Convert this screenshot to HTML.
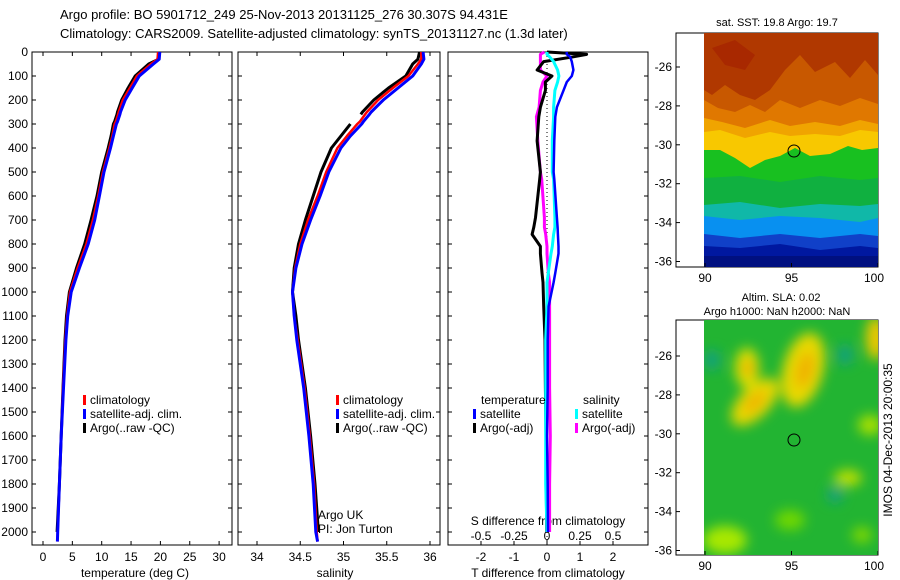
<!DOCTYPE html>
<html><head><meta charset="utf-8"><style>
body{margin:0;background:#fff}
svg{display:block;font-family:"Liberation Sans",sans-serif;font-size:12px}
</style></head><body>
<svg id="s" width="900" height="580" viewBox="0 0 900 580">
<defs><filter id="bl" x="-50%" y="-50%" width="200%" height="200%"><feGaussianBlur stdDeviation="6"/></filter>
<clipPath id="c1"><rect x="704" y="33" width="174" height="234"/></clipPath>
<clipPath id="c2"><rect x="704" y="320" width="174" height="235"/></clipPath></defs>
<text x="60" y="19" font-size="13">Argo profile: BO 5901712_249 25-Nov-2013 20131125_276 30.307S 94.431E</text>
<text x="60" y="38" font-size="13">Climatology: CARS2009. Satellite-adjusted climatology: synTS_20131127.nc (1.3d later)</text>
<g id="p1"></g>
<g id="p2"></g>
<g id="p3"></g>

<g>
<rect x="676" y="33" width="202" height="234" fill="#fff" stroke="#000"/>
<g clip-path="url(#c1)">
<rect x="704" y="33" width="174" height="234" fill="#c85800"/>
<path d="M704,33 H878 V75 L865,60 L850,78 L835,62 L815,72 L800,55 L785,70 L770,90 L755,100 L740,95 L725,85 L712,95 L704,90Z" fill="#b03800"/>
<path d="M712,48 L735,40 L755,55 L745,70 L725,65Z" fill="#a82800"/>
<path d="M704,100 L718,108 L735,112 L750,105 L765,112 L780,100 L800,108 L820,100 L840,106 L860,98 L878,104 V267 H704Z" fill="#e07800"/>
<path d="M704,118 L722,122 L745,128 L770,120 L790,126 L815,122 L840,126 L860,120 L878,124 V267 H704Z" fill="#f0a400"/>
<path d="M704,132 L720,130 L745,138 L770,132 L790,136 L815,134 L840,136 L860,130 L878,132 V267 H704Z" fill="#f8c800"/>
<path d="M704,150 L720,150 L735,158 L750,168 L765,160 L780,156 L795,148 L810,156 L830,154 L848,146 L862,150 L878,148 V267 H704Z" fill="#18c020"/>
<path d="M704,178 L740,176 L780,182 L820,176 L860,180 L878,178 V267 H704Z" fill="#10b040"/>
<path d="M704,205 L740,202 L780,208 L820,204 L860,206 L878,204 V267 H704Z" fill="#10b8a8"/>
<path d="M704,216 L740,220 L780,216 L820,218 L860,222 L878,218 V267 H704Z" fill="#0890f0"/>
<path d="M704,234 L740,238 L780,234 L820,238 L860,234 L878,236 V267 H704Z" fill="#1040c8"/>
<path d="M704,246 L740,248 L780,244 L820,250 L860,246 L878,248 V267 H704Z" fill="#0018a0"/>
<path d="M704,256 H878 V267 H704Z" fill="#001080"/>
</g>
<ellipse cx="794" cy="151" rx="6" ry="6" fill="none" stroke="#000"/>
<text x="777" y="26" text-anchor="middle" font-size="11">sat. SST: 19.8 Argo: 19.7</text>
</g>
<g>
<rect x="676" y="320" width="202" height="235" fill="#fff" stroke="#000"/>
<g clip-path="url(#c2)">
<rect x="704" y="320" width="174" height="235" fill="#22b432"/>
<g filter="url(#bl)">
<ellipse cx="747" cy="368" rx="12" ry="20" fill="#e0e000"/>
<ellipse cx="755" cy="402" rx="30" ry="15" transform="rotate(-45 755 402)" fill="#e8d800"/>
<ellipse cx="803" cy="370" rx="20" ry="38" transform="rotate(15 803 370)" fill="#e8d800"/>
<ellipse cx="876" cy="338" rx="10" ry="22" fill="#f0c800"/>
<ellipse cx="848" cy="478" rx="14" ry="8" fill="#c0e000"/>
<ellipse cx="870" cy="425" rx="12" ry="10" fill="#a8e000"/>
<ellipse cx="725" cy="540" rx="22" ry="14" fill="#a8e800"/>
<ellipse cx="790" cy="520" rx="15" ry="10" fill="#70d800"/>
<ellipse cx="862" cy="535" rx="10" ry="8" fill="#80d800"/>
<ellipse cx="748" cy="368" rx="5" ry="9" fill="#f0a800"/>
<ellipse cx="755" cy="402" rx="14" ry="6" transform="rotate(-45 755 402)" fill="#f0b000"/>
<ellipse cx="805" cy="370" rx="8" ry="18" transform="rotate(15 805 370)" fill="#f0b000"/>
<ellipse cx="712" cy="360" rx="8" ry="10" fill="#18a080"/>
<ellipse cx="845" cy="355" rx="8" ry="10" fill="#18a080"/>
<ellipse cx="835" cy="495" rx="8" ry="8" fill="#18a080"/>
</g>
</g>
<ellipse cx="794" cy="440" rx="6" ry="6" fill="none" stroke="#000"/>
<text x="781" y="301" text-anchor="middle" font-size="11">Altim. SLA: 0.02</text>
<text x="777" y="315" text-anchor="middle" font-size="11">Argo h1000: NaN h2000: NaN</text>
</g>
<g id="maxes"></g>
<text transform="translate(892,440) rotate(-90)" text-anchor="middle" font-size="12">IMOS 04-Dec-2013 20:00:35</text>
<text x="318" y="519">Argo UK</text>
<text x="318" y="533">PI: Jon Turton</text>
</svg>
<script>
// depth levels (dbar)
const depths=[0,30,50,100,150,200,250,260,290,300,350,400,500,600,700,800,900,1000,1100,1200,1400,1600,1800,2000,2040];
const tempClim=[19.6,19.5,18.4,16.0,14.8,13.6,12.9,12.8,12.4,12.2,11.8,11.3,10.2,9.4,8.5,7.4,5.9,4.6,4.1,3.8,3.4,3.1,2.8,2.5,2.45];
const tempSat=[19.9,19.8,18.8,16.4,15.2,14.0,13.2,13.1,12.7,12.5,12.0,11.5,10.4,9.6,8.8,7.7,6.2,4.8,4.2,3.9,3.5,3.1,2.8,2.5,2.45];
const tempArgo=[19.8,19.7,18.0,15.7,14.5,13.4,12.7,12.6,12.2,12.0,11.6,11.1,10.0,9.2,8.2,7.1,5.7,4.5,4.0,3.75,3.4,3.1,2.8,2.4,null];
const salClim=[35.90,35.90,35.86,35.75,35.57,35.40,35.27,35.25,35.19,35.16,35.04,34.93,34.80,34.70,34.59,34.50,34.44,34.41,34.43,34.47,34.55,34.61,34.66,34.69,34.70];
const salSat=[35.92,35.93,35.90,35.80,35.63,35.46,35.32,35.30,35.23,35.21,35.08,34.97,34.83,34.73,34.62,34.52,34.45,34.41,34.43,34.46,34.54,34.60,34.65,34.68,34.70];
const salArgo=[35.88,35.86,35.80,35.72,35.52,35.35,35.22,35.20,null,35.08,34.97,34.86,34.74,34.65,34.56,34.48,34.43,34.41,34.45,34.48,34.56,34.62,34.67,34.71,null];
const dDepths=[0,10,20,40,75,100,125,160,230,270,370,500,530,690,730,760,810,840,920,960,1060,1200,1400,1600,1800,2000];
const dTsat=[0.6,0.6,0.7,0.75,0.8,0.75,0.6,0.5,0.3,0.25,0.22,0.2,0.22,0.3,0.32,0.33,0.35,0.35,0.25,0.2,0.05,0.02,0.02,0.0,0.02,0.03];
const dTargo=[0.0,1.2,0.8,-0.1,-0.3,0.15,-0.05,-0.05,-0.2,-0.25,-0.3,-0.2,-0.22,-0.35,-0.4,-0.45,-0.2,-0.2,-0.15,-0.12,-0.1,-0.06,-0.05,-0.03,-0.02,-0.01];
const dSsat=[0.0,0.0,0.02,0.05,0.08,0.09,0.08,0.06,0.05,0.05,0.04,0.04,0.05,0.06,0.06,0.05,0.04,0.03,0.01,0.0,0.0,-0.01,-0.01,-0.01,-0.01,0.0];
const dSargo=[-0.02,-0.05,-0.05,-0.05,-0.05,0.0,-0.03,-0.05,-0.06,-0.08,-0.07,-0.05,-0.04,-0.02,-0.02,-0.01,0.0,0.0,0.01,0.02,0.02,0.02,0.02,0.025,0.02,0.02];
const depthTicks=[0,100,200,300,400,500,600,700,800,900,1000,1100,1200,1300,1400,1500,1600,1700,1800,1900,2000];
const tTicks=[0,5,10,15,20,25,30];
const sTicks=[34,34.5,35,35.5,36];
const dTTicks=[-2,-1,0,1,2];
const dSTicks=[-0.5,-0.25,0,0.25,0.5];
const dSTickLabels=["-0.5","-0.25","0","0.25","0.5"];
const latTicks=[-26,-28,-30,-32,-34,-36];
const lonTicks=[90,95,100];

const NS='http://www.w3.org/2000/svg';
function mk(tag,at,parent,txt){const e=document.createElementNS(NS,tag);for(const k in at)e.setAttribute(k,at[k]);if(txt!==undefined)e.textContent=txt;parent.appendChild(e);return e;}
const yD=d=>52+d*0.24;
const Y0=52,Y1=545;
function box(g,x0,x1){const r=mk('rect',{x:x0,y:Y0,width:x1-x0,height:Y1-Y0,fill:'none',stroke:'#000'},g);


depthTicks.forEach(d=>{mk('line',{x1:x0,x2:x0+4,y1:yD(d),y2:yD(d),stroke:'#000'},g);mk('line',{x1:x1,x2:x1-4,y1:yD(d),y2:yD(d),stroke:'#000'},g);});}
function line(g,xs,ds,sx,col,w,name){let p='',pen=false;xs.forEach((v,i)=>{if(v===null){pen=false;return;}p+=(pen?'L':'M')+sx(v).toFixed(1)+','+yD(ds[i]).toFixed(1);pen=true;});
const e=mk('path',{d:p,fill:'none',stroke:col,'stroke-width':w,'stroke-linejoin':'round'},g);

}
function legend(g,x,y,items){items.forEach((it,i)=>{mk('rect',{x:x,y:y+i*14-9,width:3,height:10,fill:it[0]},g);const t=mk('text',{x:x+7,y:y+i*14},g,it[1]);

});}

// panel 1
const g1=document.getElementById('p1');
const sxT=v=>43+v*5.87;
box(g1,32,232);
depthTicks.forEach(d=>{const t=mk('text',{x:28,y:yD(d)+4,'text-anchor':'end'},g1,String(d));

});
tTicks.forEach(v=>{mk('line',{x1:sxT(v),x2:sxT(v),y1:Y1,y2:Y1-4,stroke:'#000'},g1);mk('line',{x1:sxT(v),x2:sxT(v),y1:Y0,y2:Y0+4,stroke:'#000'},g1);mk('text',{x:sxT(v),y:561,'text-anchor':'middle'},g1,String(v));});
const tt=mk('text',{x:135,y:577,'text-anchor':'middle'},g1,'temperature (deg C)');


line(g1,tempArgo,depths,sxT,'#000',3,'temp-argo-line');
line(g1,tempClim,depths,sxT,'#f00',2.5,'temp-climatology-line');
line(g1,tempSat,depths,sxT,'#00f',3,'temp-satellite-line');
legend(g1,83,404,[['#f00','climatology'],['#00f','satellite-adj. clim.'],['#000','Argo(..raw -QC)']]);

// panel 2
const g2=document.getElementById('p2');
const sxS=v=>257+(v-34)*86.5;
box(g2,238,440);
sTicks.forEach(v=>{mk('line',{x1:sxS(v),x2:sxS(v),y1:Y1,y2:Y1-4,stroke:'#000'},g2);mk('line',{x1:sxS(v),x2:sxS(v),y1:Y0,y2:Y0+4,stroke:'#000'},g2);mk('text',{x:sxS(v),y:561,'text-anchor':'middle'},g2,String(v));});
const st=mk('text',{x:335,y:577,'text-anchor':'middle'},g2,'salinity');


line(g2,salArgo,depths,sxS,'#000',3,'sal-argo-line');
line(g2,salClim,depths,sxS,'#f00',2.5,'sal-climatology-line');
line(g2,salSat,depths,sxS,'#00f',3,'sal-satellite-line');
legend(g2,336,404,[['#f00','climatology'],['#00f','satellite-adj. clim.'],['#000','Argo(..raw -QC)']]);

// panel 3
const g3=document.getElementById('p3');
const sxDT=v=>547+v*33;
const sxDS=v=>547+v*132;
box(g3,448,648);
mk('line',{x1:547,x2:547,y1:Y0,y2:Y1,stroke:'#000','stroke-dasharray':'1,3'},g3);
dTTicks.forEach(v=>{mk('line',{x1:sxDT(v),x2:sxDT(v),y1:Y1,y2:Y1-4,stroke:'#000'},g3);mk('text',{x:sxDT(v),y:561,'text-anchor':'middle'},g3,String(v));});
dSTicks.forEach((v,i)=>{mk('text',{x:sxDS(v),y:540,'text-anchor':'middle'},g3,dSTickLabels[i]);});
mk('text',{x:548,y:525,'text-anchor':'middle'},g3,'S difference from climatology');
const dt=mk('text',{x:548,y:577,'text-anchor':'middle'},g3,'T difference from climatology');


line(g3,dSargo,dDepths,sxDS,'#f0f',3,'sal-diff-argo-line');
line(g3,dTargo,dDepths,sxDT,'#000',3,'temp-diff-argo-line');
line(g3,dSsat,dDepths,sxDS,'#0ff',3,'sal-diff-satellite-line');
line(g3,dTsat,dDepths,sxDT,'#00f',2.5,'temp-diff-satellite-line');
mk('text',{x:481,y:404},g3,'temperature');
mk('text',{x:583,y:404},g3,'salinity');
legend(g3,473,418,[['#00f','satellite'],['#000','Argo(-adj)']]);
legend(g3,575,418,[['#0ff','satellite'],['#f0f','Argo(-adj)']]);

// map axes
const gm=document.getElementById('maxes');
function mapAxes(top,y26){const py=l=>y26+(-26-l)*19.45;const px=l=>705+(l-90)*17.3;
latTicks.forEach(l=>{mk('line',{x1:676,x2:680,y1:py(l),y2:py(l),stroke:'#000'},gm);mk('text',{x:672,y:py(l)+4,'text-anchor':'end'},gm,String(l));});
lonTicks.forEach(l=>{mk('line',{x1:px(l),x2:px(l),y1:top,y2:top-4,stroke:'#000'},gm);mk('text',{x:px(l)-(l==100?4:0),y:top+15,'text-anchor':'middle'},gm,String(l));});}
mapAxes(267,67);mapAxes(555,356);
</script>
</body></html>
